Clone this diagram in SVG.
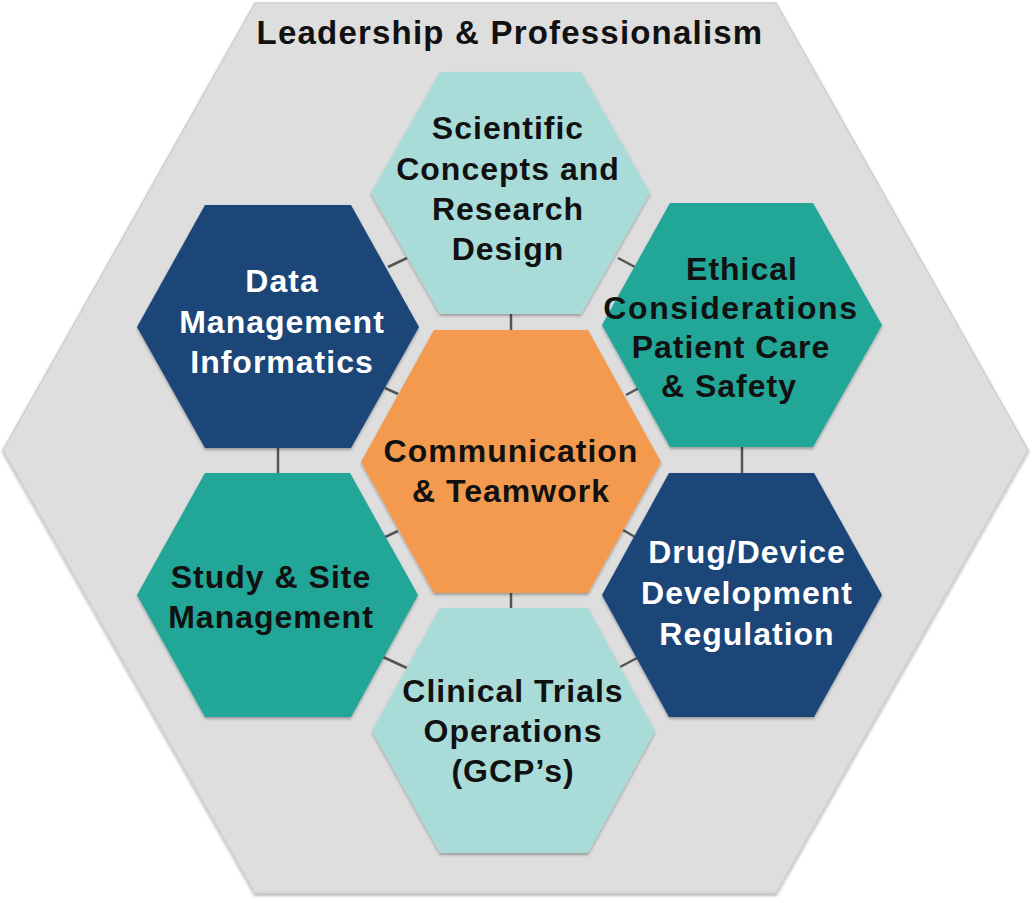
<svg xmlns="http://www.w3.org/2000/svg" width="1033" height="903" viewBox="0 0 1033 903">
  <style>
    .lbl { font-family: "Liberation Sans", Arial, sans-serif; font-weight: bold; font-size: 32px; text-anchor: middle; letter-spacing: 1px; }
    .dark { fill: #111111; }
    .light { fill: #ffffff; }
    .head { font-family: "Liberation Sans", Arial, sans-serif; font-weight: bold; font-size: 33px; text-anchor: middle; fill: #111111; letter-spacing: 1.2px; }
    .conn { stroke: #555555; stroke-width: 2.5; fill: none; }
    .hex { filter: url(#sh); }
  </style>
  <defs>
    <filter id="sh" x="-10%" y="-10%" width="120%" height="125%">
      <feDropShadow dx="0" dy="2" stdDeviation="1.5" flood-color="#000000" flood-opacity="0.3"/>
    </filter>
  </defs>
  <rect width="1033" height="903" fill="#ffffff"/>
  <g id="outer">
    <polygon class="hex" points="255,3 776,3 1028,450 776,893 255,893 3,450" fill="#dedede" stroke="#cfcfcf" stroke-width="1.5"/>
    <text class="head" x="510" y="44">Leadership &amp; Professionalism</text>
  </g>
  <g id="connectors">
    <line class="conn" x1="511" y1="314" x2="511" y2="330"/>
    <line class="conn" x1="511" y1="593" x2="511" y2="608"/>
    <line class="conn" x1="278" y1="448" x2="278" y2="473"/>
    <line class="conn" x1="742" y1="447" x2="742" y2="473"/>
    <line class="conn" x1="388" y1="267" x2="407" y2="258"/>
    <line class="conn" x1="618" y1="258" x2="635" y2="267"/>
    <line class="conn" x1="385" y1="388" x2="398" y2="394"/>
    <line class="conn" x1="626" y1="395" x2="639" y2="388"/>
    <line class="conn" x1="383" y1="538" x2="398" y2="531"/>
    <line class="conn" x1="623" y1="530" x2="635" y2="537"/>
    <line class="conn" x1="383" y1="657" x2="407" y2="668"/>
    <line class="conn" x1="620" y1="667" x2="637" y2="658"/>
  </g>
  <g id="scientific">
    <polygon class="hex" points="440,72 581,72 650,193 581,314 440,314 371,193" fill="#a9dcd9"/>
    <text class="lbl dark" x="508" y="139">Scientific</text>
    <text class="lbl dark" x="508" y="180">Concepts and</text>
    <text class="lbl dark" x="508" y="220">Research</text>
    <text class="lbl dark" x="508" y="260">Design</text>
  </g>
  <g id="data">
    <polygon class="hex" points="205,205 351,205 419,327 351,448 205,448 137,327" fill="#1a4578"/>
    <text class="lbl light" x="282" y="292">Data</text>
    <text class="lbl light" x="282" y="333">Management</text>
    <text class="lbl light" x="282" y="373">Informatics</text>
  </g>
  <g id="ethical">
    <polygon class="hex" points="670,203 813,203 882,325 813,447 670,447 602,325" fill="#20a697"/>
    <text class="lbl dark" x="742" y="280">Ethical</text>
    <text class="lbl dark" x="731" y="319" style="letter-spacing:1.6px">Considerations</text>
    <text class="lbl dark" x="731" y="358">Patient Care</text>
    <text class="lbl dark" x="729" y="397">&amp; Safety</text>
  </g>
  <g id="communication">
    <polygon class="hex" points="434,330 588,330 661,462 588,593 434,593 361,462" fill="#f39a50"/>
    <text class="lbl dark" x="511" y="462">Communication</text>
    <text class="lbl dark" x="511" y="502">&amp; Teamwork</text>
  </g>
  <g id="study">
    <polygon class="hex" points="205,473 350,473 418,595 351,717 205,717 137,595" fill="#20a697"/>
    <text class="lbl dark" x="271" y="588">Study &amp; Site</text>
    <text class="lbl dark" x="271" y="628">Management</text>
  </g>
  <g id="drug">
    <polygon class="hex" points="669,473 814,473 882,595 814,717 669,717 602,595" fill="#1a4578"/>
    <text class="lbl light" x="747" y="563">Drug/Device</text>
    <text class="lbl light" x="747" y="604">Development</text>
    <text class="lbl light" x="747" y="645">Regulation</text>
  </g>
  <g id="clinical">
    <polygon class="hex" points="440,608 588,608 655,731 588,853 440,853 372,731" fill="#a9dcd9"/>
    <text class="lbl dark" x="513" y="702">Clinical Trials</text>
    <text class="lbl dark" x="513" y="742">Operations</text>
    <text class="lbl dark" x="513" y="782">(GCP’s)</text>
  </g>
</svg>
